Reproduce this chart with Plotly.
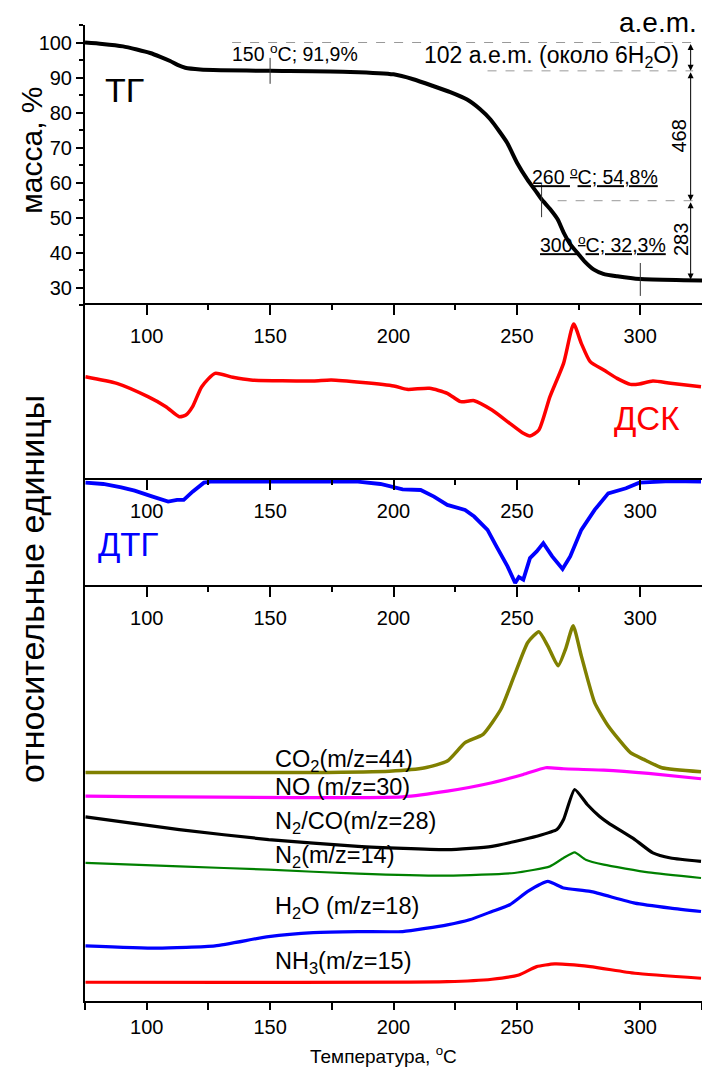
import plotly.graph_objects as go

FONT = "Liberation Sans, Arial, sans-serif"

# ---------------- data ----------------
# TG (mass, %)
tg_T = [75, 82, 90.4, 96, 101.4, 105.5, 109.5, 112.5, 115.6, 121.7, 130, 150, 182.5, 200, 208, 216.3, 223, 229.8,
        235, 239.3, 243, 246.1, 250.1, 254.2, 258.2, 260, 263.6, 266.5, 269, 271.5, 274.5, 277.5, 281.2, 285,
        290.7, 300, 317.6, 325]
tg_m = [100, 99.6, 98.9, 98.0, 97.0, 95.9, 94.7, 93.6, 92.8, 92.3, 92.1, 91.9, 91.6, 90.9, 89.5, 87.5, 85.8, 83.7,
        81.0, 78.0, 74.5, 71.3, 65.6, 60.9, 57.0, 55.2, 52.3, 49.5, 45.6, 42.5, 39.9, 37.4, 35.1, 33.9,
        33.2, 32.4, 32.1, 32.0]

# DSC (relative units)
dsc_T = [75.2, 87.9, 100.5, 107.8, 113.2, 115.9, 118.6, 122.3, 127.7, 134.9, 142.2, 167.5, 174.8, 200.1, 205.5,
         214.6, 221.8, 227.2, 232.7, 239.9, 247.1, 252.6, 255.3, 258.9, 263.4, 268.9, 273.0, 276.1, 279.7, 285.2,
         290.6, 296.0, 299.6, 305.1, 312.3, 324.6]
dsc_v = [310, 290, 250, 220, 190, 195, 220, 280, 320, 308, 300, 297, 300, 282, 272,
         275, 260, 235, 238, 210, 170, 140, 132, 150, 250, 350, 468, 410, 355, 330,
         305, 287, 288, 297, 290, 280]

# DTG (relative units)
dtg_T = [75.2, 82.4, 89.7, 95.1, 102.4, 108.7, 112.3, 115.0, 118.6, 123.2, 125.9, 149.4, 185.6, 194.7, 200.1,
         203.7, 211.0, 216.4, 221.8, 229.0, 232.7, 238.1, 241.7, 246.2, 249.3, 250.8, 252.6, 255.3, 258.0, 260.7,
         264.3, 268.5, 271.6, 276.1, 281.5, 287.0, 294.2, 299.6, 312.3, 324.6]
dtg_v = [314, 310, 300, 290, 272, 257, 262, 262, 287, 314, 317, 317, 317, 310, 302,
         294, 292, 272, 247, 232, 212, 172, 122, 62, 12, 30, 22, 87, 107, 132,
         92, 54, 92, 172, 232, 282, 297, 314, 319, 317]

# Mass spectrometry (relative units)
co2_T = [75.2, 167.5, 198.3, 212.8, 221.8, 229.0, 236.3, 243.5, 248.9, 254.4, 258.9, 262.5, 266.7, 269.7, 272.8,
         276.1, 281.5, 287.0, 296.0, 301.4, 308.7, 324.6]
co2_v = [228, 228, 229.3, 232.7, 239.3, 257.7, 266, 291, 324.3, 357.7, 368.3, 354.3, 334.3, 351, 374.3,
         344.3, 297.7, 274.3, 247.7, 241, 232.7, 228.7]

no_T = [75.2, 203.7, 221.8, 239.9, 252.6, 261.6, 268.9, 285.2, 303.3, 324.6]
no_v = [204.3, 203.7, 209.3, 217.7, 226, 232.7, 231.7, 230.3, 227, 221.7]

n2co_T = [75.2, 113.2, 149.4, 185.6, 221.8, 239.9, 258.0, 266.2, 268.9, 273.4, 278.5, 283.4, 287.0, 297.8, 305.1,
          312.3, 324.6]
n2co_v = [183.7, 171, 161, 154.3, 151, 154.3, 164.3, 171, 181, 211, 196, 184.3, 177.7, 161, 147.7,
          142.7, 139.3]

n2_T = [75.2, 113.2, 149.4, 185.6, 221.8, 248.9, 263.4, 268.9, 273.4, 277.9, 285.2, 303.3, 324.6]
n2_v = [137.7, 134.3, 131, 127, 125, 127.7, 134.3, 142.7, 148.3, 141, 136, 128.3, 122.7]

h2o_T = [75.2, 104.2, 127.7, 149.4, 167.5, 185.6, 203.7, 221.8, 230.8, 239.9, 247.1, 254.4, 262.5, 268.9, 279.7,
         297.8, 312.3, 324.6]
h2o_v = [55, 52.7, 55, 64.3, 68.3, 69.3, 69.3, 76, 81, 89.3, 96, 109.3, 119.3, 112.7, 109.3,
         97.7, 92.7, 89.3]

nh3_T = [75.2, 221.8, 239.9, 250.8, 258.0, 265.3, 279.7, 297.8, 324.6]
nh3_v = [18.7, 19.3, 21.7, 26, 34.3, 37, 34.3, 27.7, 22.7]

ms_names = ["CO<sub>2</sub>(m/z=44)", "NO (m/z=30)", "N<sub>2</sub>/CO(m/z=28)", "N<sub>2</sub>(m/z=14)",
            "H<sub>2</sub>O (m/z=18)", "NH<sub>3</sub>(m/z=15)"]
ms_label_y = [240, 213, 178, 144, 93, 38]

# TG markers
mark_T = [150, 260, 300]
mark_m = [91.9, 54.8, 32.3]
mark_text = ["150 <sup>o</sup>C; 91,9%", "<u>260 <sup>o</sup>C; 54,8%</u>", "<u>300 <sup>o</sup>C; 32,3%</u>"]
steps = [100, 91.9, 54.8, 32.3]
step_labels = ["102 а.е.m. (около 6H<sub>2</sub>O)", "468", "283"]

X_RANGE = [75, 325]

fig = go.Figure()
fig.add_trace(go.Scatter(x=tg_T, y=tg_m, mode="lines", xaxis="x", yaxis="y",
                         line=dict(color="black", width=4, shape="spline", smoothing=0.6)))
fig.add_trace(go.Scatter(x=dsc_T, y=dsc_v, mode="lines", xaxis="x2", yaxis="y2",
                         line=dict(color="#FF0000", width=3.5, shape="spline", smoothing=0.6)))
fig.add_trace(go.Scatter(x=dtg_T, y=dtg_v, mode="lines", xaxis="x3", yaxis="y3",
                         line=dict(color="#0000FF", width=3.8)))
ms_series = [(co2_T, co2_v, "#808000", 3.5), (no_T, no_v, "#FF00FF", 3.2), (n2co_T, n2co_v, "black", 3.2),
             (n2_T, n2_v, "#008000", 2.2), (h2o_T, h2o_v, "#0000FF", 3.2), (nh3_T, nh3_v, "#FF0000", 3.2)]
for i, (tx, vy, col, w) in enumerate(ms_series):
    fig.add_trace(go.Scatter(x=tx, y=vy, mode="lines", xaxis="x5" if i == 0 else "x4", yaxis="y4",
                             line=dict(color=col, width=w, shape="spline", smoothing=0.5)))

axfont = dict(family=FONT, size=20, color="black")
common_x = dict(range=X_RANGE, showgrid=False, zeroline=False, showline=True, linecolor="black", linewidth=2,
                tick0=0, dtick=50, tickcolor="black", tickwidth=1.5, tickfont=axfont, automargin=False,
                minor=dict(dtick=25, ticklen=5, tickcolor="black", tickwidth=1.5, ticks="inside"))
common_y = dict(showgrid=False, zeroline=False, showline=True, linecolor="black", linewidth=2,
                showticklabels=False, ticks="", automargin=False)

D1 = [0.7131, 1.0]
D2 = [0.5338, 0.7131]
D3 = [0.4242, 0.5338]
D4 = [0.0, 0.4242]

top_inside = dict(side="top", ticks="inside", ticklen=10, ticklabelposition="inside", ticklabelstandoff=15)

fig.update_layout(
    width=702, height=1070,
    margin=dict(l=85, r=0, t=25, b=69, autoexpand=False),
    paper_bgcolor="white", plot_bgcolor="white",
    showlegend=False,
    font=dict(family=FONT, color="black"),
    xaxis=dict(range=X_RANGE, anchor="y", visible=False),
    yaxis=dict(domain=D1, range=[25, 105], showgrid=False, zeroline=False, showline=True, linecolor="black",
               linewidth=2, ticks="outside", ticklen=7, tickwidth=1.5, tickcolor="black", tick0=0, dtick=10,
               tickfont=axfont, automargin=False,
               minor=dict(dtick=5, ticklen=4, ticks="outside", tickcolor="black")),
    xaxis2=dict(common_x, anchor="y2", **top_inside),
    yaxis2=dict(common_y, domain=D2, range=[0, 525]),
    xaxis3=dict(common_x, anchor="y3", **top_inside),
    yaxis3=dict(common_y, domain=D3, range=[0, 322]),
    xaxis4=dict(common_x, anchor="y4", side="bottom", ticks="outside", ticklen=7,
                minor=dict(dtick=25, ticklen=7, ticks="outside", tickcolor="black", tickwidth=1.5)),
    yaxis4=dict(common_y, domain=D4, range=[0, 413]),
    xaxis5=dict(common_x, anchor="y4", overlaying="x4", **top_inside),
)

ann = []
shapes = []

# axis titles
ann.append(dict(text="масса, %", xref="paper", yref="paper", x=-0.086, y=0.872, showarrow=False,
                xanchor="center", yanchor="middle", textangle=-90, font=dict(size=30, family=FONT)))
ann.append(dict(text="относительные единицы", xref="paper", yref="paper", x=-0.086, y=0.422,
                xanchor="center", yanchor="middle", showarrow=False, textangle=-90,
                font=dict(size=34, family=FONT)))
ann.append(dict(text="Температура, <sup>o</sup>C", xref="paper", yref="paper", x=0.483, y=-0.055,
                xanchor="center", yanchor="middle", showarrow=False, font=dict(size=19, family=FONT)))

# panel labels
ann.append(dict(text="ТГ", xref="x", yref="y", x=82.3, y=86.3, xanchor="left", yanchor="middle",
                showarrow=False, font=dict(size=34, family=FONT)))
ann.append(dict(text="ДСК", xref="x2", yref="y2", x=317, y=186, xanchor="right", yanchor="middle",
                showarrow=False, font=dict(size=33, family=FONT, color="#FF0000")))
ann.append(dict(text="ДТГ", xref="x3", yref="y3", x=79.5, y=127, xanchor="left", yanchor="middle",
                showarrow=False, font=dict(size=33, family=FONT, color="#0000FF")))

# TG markers and labels
mark_len = [3.7, 4.7, 4.7]
mark_lab_pos = [(133.8, 96.9), (255.5, 62.0), (258.4, 42.3)]
for t, m, txt, L, (lx, ly) in zip(mark_T, mark_m, mark_text, mark_len, mark_lab_pos):
    shapes.append(dict(type="line", xref="x", yref="y", x0=t, x1=t, y0=m - L, y1=m + L,
                       line=dict(color="#333", width=1)))
    ann.append(dict(text=txt, xref="x", yref="y", x=lx, y=ly, xanchor="left", yanchor="middle",
                    showarrow=False, font=dict(size=19.5, family=FONT)))

# dashed level lines
ARX = 320.4
dash_start = [134.6, 238.1, 266.5]
for s, lev in zip(dash_start, steps[:3]):
    shapes.append(dict(type="line", xref="x", yref="y", x0=s, x1=ARX + 1, y0=lev, y1=lev,
                       line=dict(color="#999", width=1, dash="dash")))

# double arrows
for a, b in zip(steps[:-1], steps[1:]):
    ann.append(dict(text="", xref="x", yref="y", x=ARX, y=b, axref="x", ayref="y", ax=ARX, ay=a,
                    showarrow=True, arrowside="end+start", arrowhead=2, arrowsize=1.2, arrowwidth=1,
                    arrowcolor="black", standoff=0, startstandoff=0))

ann.append(dict(text=step_labels[0], xref="x", yref="y", x=316.5, y=(steps[0] + steps[1]) / 2,
                xanchor="right", yanchor="middle", showarrow=False, font=dict(size=23, family=FONT)))
ann.append(dict(text=step_labels[1], xref="x", yref="y", x=315.6, y=(steps[1] + steps[2]) / 2,
                xanchor="center", yanchor="middle", showarrow=False, textangle=-90,
                font=dict(size=20, family=FONT)))
ann.append(dict(text=step_labels[2], xref="x", yref="y", x=316.5, y=(steps[2] + steps[3]) / 2,
                xanchor="center", yanchor="middle", showarrow=False, textangle=-90,
                font=dict(size=20, family=FONT)))
ann.append(dict(text="а.е.m.", xref="x", yref="paper", x=323.6, y=0.9847, xanchor="right", yanchor="bottom",
                showarrow=False, font=dict(size=28, family=FONT)))

# MS labels
for name, ly in zip(ms_names, ms_label_y):
    ann.append(dict(text=name, xref="x4", yref="y4", x=151, y=ly, xanchor="left", yanchor="middle",
                    showarrow=False, font=dict(size=23.5, family=FONT)))

fig.update_layout(annotations=ann, shapes=shapes)
fig.write_html("out.html", config={"displayModeBar": False},
               post_script="document.body.style.margin='0';document.body.style.overflow='hidden';")
